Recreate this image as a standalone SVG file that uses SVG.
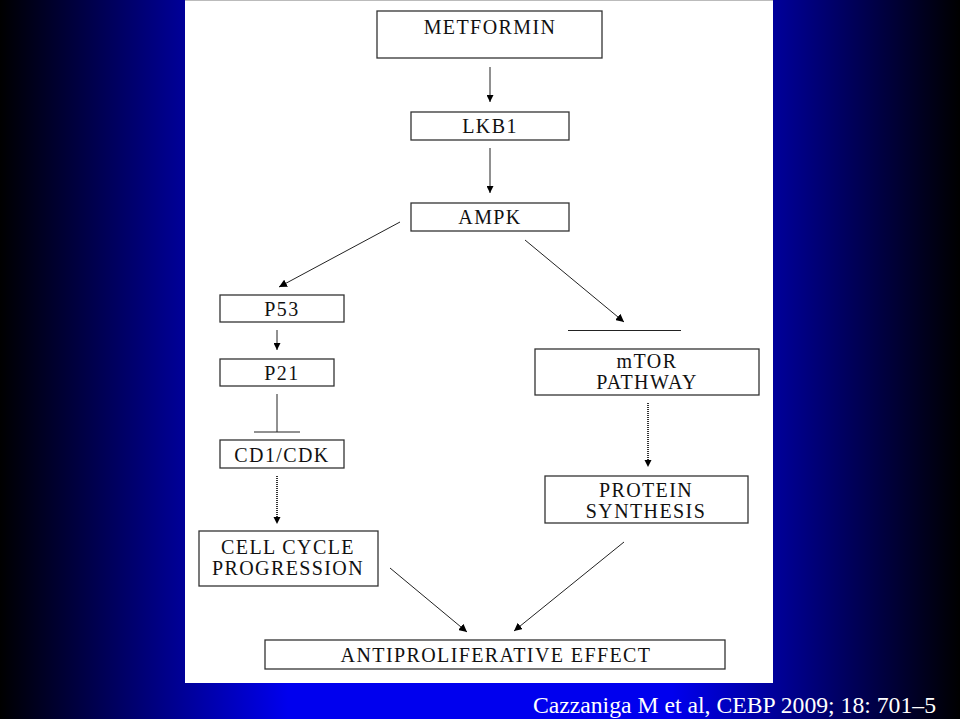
<svg xmlns="http://www.w3.org/2000/svg" width="960" height="719" viewBox="0 0 960 719">
<defs>
<linearGradient id="bg" x1="0" y1="0" x2="1" y2="0">
<stop offset="0" stop-color="#000000"/>
<stop offset="0.3" stop-color="#0000ee"/>
<stop offset="0.7" stop-color="#0000ee"/>
<stop offset="1" stop-color="#000000"/>
</linearGradient>
<marker id="ah" viewBox="0 0 10 10" refX="10" refY="5" markerWidth="8" markerHeight="8" markerUnits="userSpaceOnUse" orient="auto">
<path d="M0,0 L10,5 L0,10 z" fill="#000"/>
</marker>
<marker id="ahs" viewBox="0 0 10 10" refX="10" refY="5" markerWidth="7" markerHeight="7" markerUnits="userSpaceOnUse" orient="auto">
<path d="M0,0 L10,5 L0,10 z" fill="#000"/>
</marker>
</defs>
<style>
.box{fill:#fff;stroke:#333;stroke-width:1.3}
.t{font-family:"Liberation Serif","Times New Roman",serif;font-size:20px;letter-spacing:1.4px;fill:#111;text-anchor:middle}
.c{stroke:#222;stroke-width:1;fill:none}
.d{stroke:#333;stroke-width:2;stroke-dasharray:1 1;fill:none}
</style>
<rect width="960" height="719" fill="url(#bg)"/>
<rect x="185" y="0" width="588" height="683" fill="#fff"/>
<line x1="185" y1="0.5" x2="773" y2="0.5" stroke="#bbb" stroke-width="1"/>

<g id="metformin"><rect class="box" x="377" y="11" width="225" height="47"/><text class="t" x="490" y="34">METFORMIN</text></g>
<g id="lkb1"><rect class="box" x="411" y="112" width="158" height="28"/><text class="t" x="490" y="133">LKB1</text></g>
<g id="ampk"><rect class="box" x="411" y="203" width="158" height="28"/><text class="t" x="490" y="224">AMPK</text></g>
<g id="p53"><rect class="box" x="220" y="295" width="124" height="27"/><text class="t" x="282" y="316">P53</text></g>
<g id="p21"><rect class="box" x="220" y="359" width="114" height="27"/><text class="t" x="282" y="380">P21</text></g>
<g id="cd1cdk"><rect class="box" x="220" y="440" width="124" height="28"/><text class="t" x="282" y="462">CD1/CDK</text></g>
<g id="cellcycle"><rect class="box" x="199" y="531" width="179" height="55"/><text class="t" x="288" y="554">CELL CYCLE</text><text class="t" x="288" y="575">PROGRESSION</text></g>
<g id="mtor"><rect class="box" x="535" y="349" width="224" height="46"/><text class="t" x="647" y="368">mTOR</text><text class="t" x="647" y="389">PATHWAY</text></g>
<g id="protein"><rect class="box" x="545" y="476" width="203" height="47"/><text class="t" x="646" y="497">PROTEIN</text><text class="t" x="646" y="518">SYNTHESIS</text></g>
<g id="antiprolif"><rect class="box" x="265" y="640" width="460" height="29"/><text class="t" x="496" y="662">ANTIPROLIFERATIVE EFFECT</text></g>

<g id="connectors">
<line class="c" x1="490" y1="67" x2="490" y2="102" marker-end="url(#ahs)"/>
<line class="c" x1="490" y1="148" x2="490" y2="193" marker-end="url(#ahs)"/>
<line class="c" x1="400" y1="222" x2="279" y2="287" marker-end="url(#ah)"/>
<line class="c" x1="525" y1="240" x2="624" y2="322" marker-end="url(#ah)"/>
<line class="c" x1="568" y1="330.5" x2="681" y2="330.5"/>
<line class="c" x1="277" y1="330" x2="277" y2="350" stroke-width="1.5" marker-end="url(#ahs)"/>
<line class="c" x1="277" y1="394" x2="277" y2="432"/>
<line class="c" x1="254" y1="432" x2="300" y2="432"/>
<line class="d" x1="277" y1="476" x2="277" y2="518"/>
<path d="M273.5,517 L280.5,517 L277,524 z" fill="#000"/>
<line class="d" x1="648" y1="403" x2="648" y2="461"/>
<path d="M644.5,460 L651.5,460 L648,467 z" fill="#000"/>
<line class="c" x1="390" y1="568" x2="467" y2="632" marker-end="url(#ah)"/>
<line class="c" x1="624" y1="542" x2="514" y2="631" marker-end="url(#ah)"/>
</g>

<text x="936" y="713" font-family="'Liberation Serif','Times New Roman',serif" font-size="23.7" fill="#fff" text-anchor="end">Cazzaniga M et al, CEBP 2009; 18: 701–5</text>
</svg>
